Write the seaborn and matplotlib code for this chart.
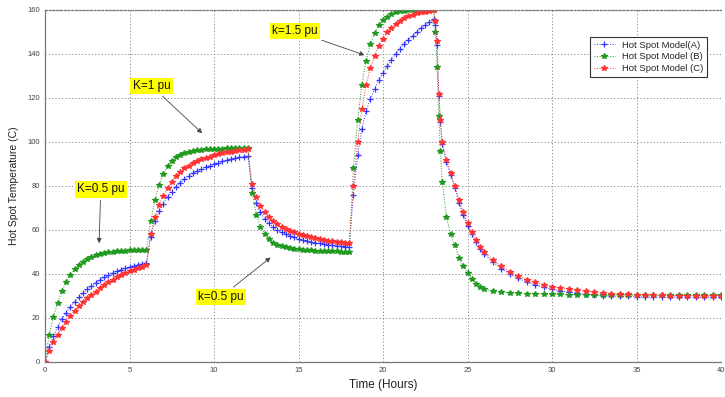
import numpy as np
import pandas as pd
import matplotlib
matplotlib.use("Agg")
import matplotlib.pyplot as plt
import seaborn as sns

sns.set_style("white")
plt.rcParams['font.family'] = ['Liberation Sans', 'DejaVu Sans']

# Time axis samples (hours)
hours = np.r_[np.arange(0, 23.01, 0.25), [23.1, 23.2, 23.3, 23.4],
              np.arange(23.5, 26.01, 0.25), np.arange(26.5, 40.01, 0.5)]

# Hot Spot Model (A) - blue
model_a = [
    0, 7, 12, 16, 19.5, 22.5, 25, 27.5, 29.5, 31.3, 33, 34.5, 36, 37.3, 38.5, 39.5, 40.5, 41.3, 42, 42.7, 43.3, 43.8, 44.3, 44.7, 45,
    57, 64, 68.5, 72, 75, 77.5, 79.6, 81.5, 83.1, 84.5, 85.7, 86.8, 87.7, 88.6, 89.3, 90, 90.6, 91.2, 91.7, 92.2, 92.6, 93, 93.4, 93.7,
    79, 72.5, 68, 65, 63, 61.3, 60, 59, 58.1, 57.3, 56.6, 56, 55.5, 55, 54.6, 54.2, 53.9, 53.6, 53.3, 53.1, 52.9, 52.7, 52.5, 52.4,
    76, 94, 106, 114, 119.5, 124, 128, 131.5, 134.5, 137.5, 140, 142.5, 144.6, 146.5, 148.3, 150, 151.6, 153, 154.5, 156,
    153, 144, 121, 109,
    99, 91, 85, 79, 72.5, 67, 62, 58, 54.5, 51.5, 49,
    45.5, 42.5, 40, 38, 36.4, 35, 33.9, 33, 32.3, 31.7, 31.2, 30.8, 30.5, 30.2, 30, 29.9, 29.8, 29.7, 29.6, 29.6, 29.5, 29.5, 29.5, 29.4, 29.4, 29.4, 29.4, 29.4,
]

# Hot Spot Model (B) - green
model_b = [
    0, 12.5, 20.5, 27, 32.2, 36.4, 39.6, 42.1, 44.1, 45.6, 46.8, 47.7, 48.5, 49, 49.5, 49.8, 50.1, 50.3, 50.4, 50.6, 50.7, 50.8, 50.8, 50.9, 50.9,
    64, 73.5, 80.5, 85.5, 89, 91.5, 93, 94.2, 95, 95.6, 96, 96.3, 96.5, 96.7, 96.8, 96.9, 97, 97, 97.1, 97.1, 97.2, 97.2, 97.2, 97.3,
    77, 67, 61.5, 58, 55.8, 54.3, 53.3, 52.6, 52.1, 51.7, 51.4, 51.2, 51, 50.8, 50.7, 50.6, 50.5, 50.4, 50.4, 50.3, 50.3, 50.2, 50.2, 50.2,
    88, 110, 126, 137, 144.5, 149.5, 153, 155.5, 157, 158.3, 159, 159.4, 159.6, 159.8, 159.9, 160, 160, 160, 160, 160,
    150, 134, 112, 96,
    82, 66, 58, 53, 47.5, 43.5, 40.3, 37.8, 35.5, 34, 33,
    32.3, 31.8, 31.5, 31.3, 31.1, 31, 30.9, 30.8, 30.7, 30.6, 30.6, 30.5, 30.5, 30.5, 30.4, 30.4, 30.4, 30.4, 30.3, 30.3, 30.3, 30.3, 30.3, 30.3, 30.3, 30.3, 30.3, 30.3,
]

# Hot Spot Model (C) - red
model_c = [
    0, 5, 9, 12.5, 15.5, 18.3, 21, 23.3, 25.5, 27.3, 29, 30.6, 32, 33.5, 35, 36.3, 37.5, 38.5, 39.5, 40.4, 41.2, 42, 42.7, 43.4, 44,
    58, 66, 71.5, 75.5, 79, 82, 84.5, 86.5, 88, 89.3, 90.4, 91.3, 92.1, 92.8, 93.4, 94, 94.5, 94.9, 95.3, 95.6, 95.9, 96.2, 96.4, 96.6,
    81, 75, 71, 68, 65.8, 64, 62.6, 61.5, 60.5, 59.6, 58.9, 58.2, 57.6, 57.1, 56.6, 56.2, 55.8, 55.5, 55.2, 54.9, 54.6, 54.4, 54.2, 54,
    80, 100, 115, 126, 133.5, 139, 143.5, 147, 150, 152, 153.8, 155.2, 156.3, 157.2, 157.9, 158.5, 158.9, 159.3, 159.6, 159.8,
    155, 146, 122, 110,
    100, 92, 86, 80, 73.5, 68, 63, 59, 55.5, 52.5, 50,
    46.5, 43.5, 41, 39, 37.5, 36.2, 35.2, 34.3, 33.6, 33, 32.6, 32.1, 31.7, 31.4, 31.1, 30.9, 30.7, 30.6, 30.5, 30.4, 30.3, 30.2, 30.2, 30.1, 30.1, 30, 30, 30,
]

series_names = ["Hot Spot Model(A)", "Hot Spot Model (B)", "Hot Spot Model (C)"]
x_ticks = [0, 5, 10, 15, 20, 25, 30, 35, 40]
y_ticks = [0, 20, 40, 60, 80, 100, 120, 140, 160]

# annotations: (text, text_x, text_y, arrow_x, arrow_y)
notes = [
    ("K=0.5 pu", 3.3, 78.5, 3.2, 54),
    ("K=1 pu", 6.3, 125.5, 9.3, 104),
    ("k=0.5 pu", 10.4, 29.5, 13.35, 47.5),
    ("k=1.5 pu", 14.8, 150.5, 18.9, 139.5),
]

fig = plt.figure(figsize=(7.25, 3.97), dpi=100)
ax = fig.add_axes([45/725, 35/397, 676/725, 352/397])

styles = [
    (model_a, "#3333ff", "+", 4.2),
    (model_b, "#1f9a1f", "*", 4.0),
    (model_c, "#ff3333", "*", 4.0),
]
for (vals, col, mk, ms), name in zip(styles, series_names):
    sns.lineplot(x=hours, y=vals, ax=ax, color=col, marker=mk, markersize=ms,
                 markeredgecolor=col, markerfacecolor=col, markeredgewidth=0.9,
                 linewidth=0.7, linestyle=':', label=name)

ax.set_xlim(0, 40)
ax.set_ylim(0, 160)
ax.set_xticks(x_ticks)
ax.set_yticks(y_ticks)
ax.tick_params(axis='both', labelsize=5.5, direction='in', length=2.5,
               colors='#555555', labelcolor='#444444')
ax.grid(True, linestyle=(0, (1.2, 2.2)), color='#888888', linewidth=0.7)
for s in ax.spines.values():
    s.set_color('#777777')
    s.set_linewidth(0.9)
ax.spines['top'].set_linestyle((0, (1.5, 1.5)))
ax.spines['right'].set_visible(False)

ax.set_xlabel("Time (Hours)", fontsize=8.5, color='#222222', labelpad=4)
ax.set_ylabel("Hot Spot Temperature (C)", fontsize=7.5, color='#222222', labelpad=6)

for txt, tx, ty, axx, ayy in notes:
    ax.annotate(txt, xy=(axx, ayy), xytext=(tx, ty), fontsize=8.5, color='#111111',
                ha='center', va='center',
                bbox=dict(boxstyle='square,pad=0.2', fc='#ffff00', ec='none'),
                arrowprops=dict(arrowstyle='-|>', color='#444444', lw=0.6,
                                mutation_scale=7, shrinkA=2, shrinkB=0))

leg = ax.legend(loc='upper right', bbox_to_anchor=(0.987, 0.9375), fontsize=6.8,
                frameon=True, fancybox=False, edgecolor='#333333', framealpha=1,
                borderpad=0.4, handlelength=2.2, labelspacing=0.3)
leg.get_frame().set_linewidth(0.8)

fig.savefig("out.png", dpi=100)
